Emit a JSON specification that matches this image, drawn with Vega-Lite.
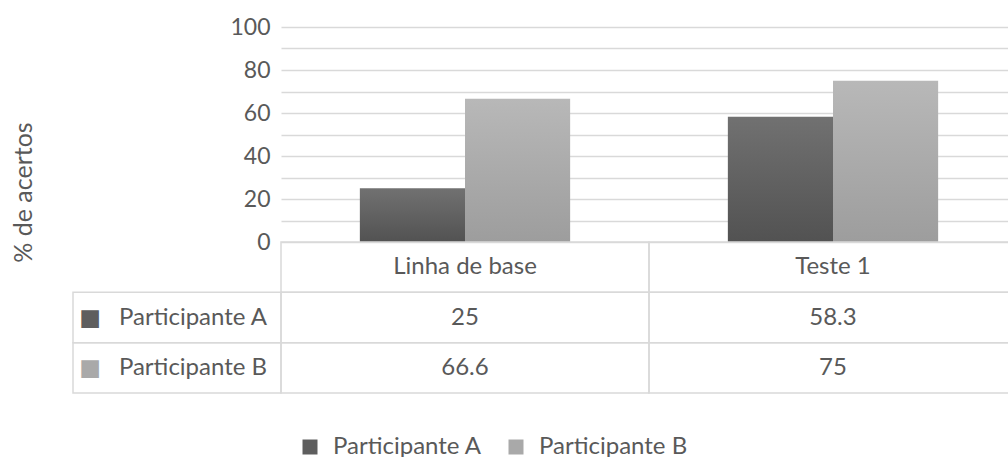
{
  "$schema": "https://vega.github.io/schema/vega-lite/v6.json",
  "background": "white",
  "padding": {"left": 11, "top": 16, "right": 0, "bottom": 0},
  "datasets": {
    "scores": [
      {"category": "Linha de base", "series": "Participante A", "value": 25},
      {"category": "Linha de base", "series": "Participante B", "value": 66.6},
      {"category": "Teste 1", "series": "Participante A", "value": 58.3},
      {"category": "Teste 1", "series": "Participante B", "value": 75}
    ]
  },
  "data": {"name": "scores"},
  "columns": 2,
  "spacing": 0,
  "bounds": "flush",
  "resolve": {"scale": {"color": "shared"}},
  "config": {
    "font": "Lato",
    "view": {"stroke": null},
    "text": {"font": "Lato", "fontSize": 24, "color": "#595959"}
  },
  "concat": [
    {
      "width": 208,
      "height": 215,
      "data": {"values": []},
      "mark": "text",
      "encoding": {}
    },
    {
      "width": 736,
      "height": 215,
      "mark": {"type": "bar"},
      "encoding": {
        "x": {"field": "category", "type": "nominal", "sort": null, "scale": {"paddingInner": 0, "paddingOuter": 0}, "axis": null},
        "xOffset": {"field": "series", "type": "nominal", "sort": null, "scale": {"paddingInner": 0, "paddingOuter": 0.75}},
        "y": {
          "field": "value", "type": "quantitative",
          "scale": {"domain": [0, 100], "nice": false},
          "axis": {
            "values": [0, 10, 20, 30, 40, 50, 60, 70, 80, 90, 100],
            "labelExpr": "datum.value % 20 === 0 ? datum.label : ''",
            "grid": true, "gridColor": "#d9d9d9", "gridWidth": 1.5,
            "domain": false, "ticks": false,
            "labelFont": "Lato", "labelFontSize": 23, "labelColor": "#595959", "labelPadding": 11,
            "title": "% de acertos", "titleFont": "Lato", "titleFontSize": 25, "titleFontWeight": "normal",
            "titleColor": "#595959", "titleX": -258, "titleY": 165, "titleAngle": -90,
            "titleAlign": "center", "titleBaseline": "middle"
          }
        },
        "color": {
          "field": "series", "type": "nominal",
          "scale": {"domain": ["Participante A", "Participante B"], "range": ["#5e5e5e", "#a9a9a9"]},
          "legend": {
            "orient": "none", "legendX": 225, "legendY": 408, "direction": "horizontal", "title": null,
            "symbolType": "square", "symbolSize": 225, "symbolStrokeWidth": 0,
            "labelFont": "Lato", "labelFontSize": 24, "labelColor": "#595959", "labelOffset": 11, "columnPadding": 22
          }
        },
        "fill": {
          "condition": {
            "test": "datum.series === 'Participante A'",
            "value": {"gradient": "linear", "x1": 0, "y1": 0, "x2": 0, "y2": 1, "stops": [{"offset": 0, "color": "#717171"}, {"offset": 1, "color": "#525252"}]}
          },
          "value": {"gradient": "linear", "x1": 0, "y1": 0, "x2": 0, "y2": 1, "stops": [{"offset": 0, "color": "#b8b8b8"}, {"offset": 1, "color": "#9d9d9d"}]}
        }
      }
    },
    {
      "width": 208,
      "height": 151,
      "transform": [{"filter": "datum.category === 'Linha de base'"}],
      "encoding": {
        "y": {"field": "series", "type": "nominal", "scale": {"domain": ["Categoria", "Participante A", "Participante B"], "paddingInner": 0, "paddingOuter": 0}, "axis": null}
      },
      "layer": [
        {
          "mark": {"type": "rect", "fill": null, "stroke": "#d9d9d9", "strokeWidth": 1.5},
          "encoding": {}
        },
        {
          "mark": {"type": "text", "text": "■", "font": "DejaVu Sans", "fontSize": 23, "align": "center", "baseline": "middle", "dx": -87},
          "encoding": {
            "color": {
              "field": "series", "type": "nominal",
              "scale": {"domain": ["Participante A", "Participante B"], "range": ["#5e5e5e", "#a9a9a9"]},
              "legend": {
                "orient": "none", "legendX": 225, "legendY": 408, "direction": "horizontal", "title": null,
                "symbolType": "square", "symbolSize": 225, "symbolStrokeWidth": 0,
                "labelFont": "Lato", "labelFontSize": 24, "labelColor": "#595959", "labelOffset": 11, "columnPadding": 22
              }
            }
          }
        },
        {
          "mark": {"type": "text", "align": "center", "baseline": "middle", "dx": 16},
          "encoding": {"text": {"field": "series", "type": "nominal"}}
        }
      ]
    },
    {
      "width": 736,
      "height": 151,
      "encoding": {
        "x": {"field": "category", "type": "nominal", "sort": null, "scale": {"paddingInner": 0, "paddingOuter": 0}, "axis": null}
      },
      "layer": [
        {
          "mark": {"type": "rect", "fill": null, "stroke": "#d9d9d9", "strokeWidth": 1.5},
          "encoding": {
            "y": {"field": "series", "type": "nominal", "scale": {"domain": ["Categoria", "Participante A", "Participante B"], "paddingInner": 0, "paddingOuter": 0}, "axis": null}
          }
        },
        {
          "transform": [{"filter": "datum.series === 'Participante A'"}],
          "mark": {"type": "rect", "fill": null, "stroke": "#d9d9d9", "strokeWidth": 1.5},
          "encoding": {
            "y": {"datum": "Categoria", "type": "nominal"}
          }
        },
        {
          "mark": {"type": "text", "align": "center", "baseline": "middle"},
          "encoding": {
            "y": {"field": "series", "type": "nominal"},
            "text": {"field": "value", "type": "nominal"}
          }
        },
        {
          "transform": [{"filter": "datum.series === 'Participante A'"}],
          "mark": {"type": "text", "align": "center", "baseline": "middle"},
          "encoding": {
            "y": {"datum": "Categoria", "type": "nominal"},
            "text": {"field": "category", "type": "nominal"}
          }
        }
      ]
    }
  ]
}
